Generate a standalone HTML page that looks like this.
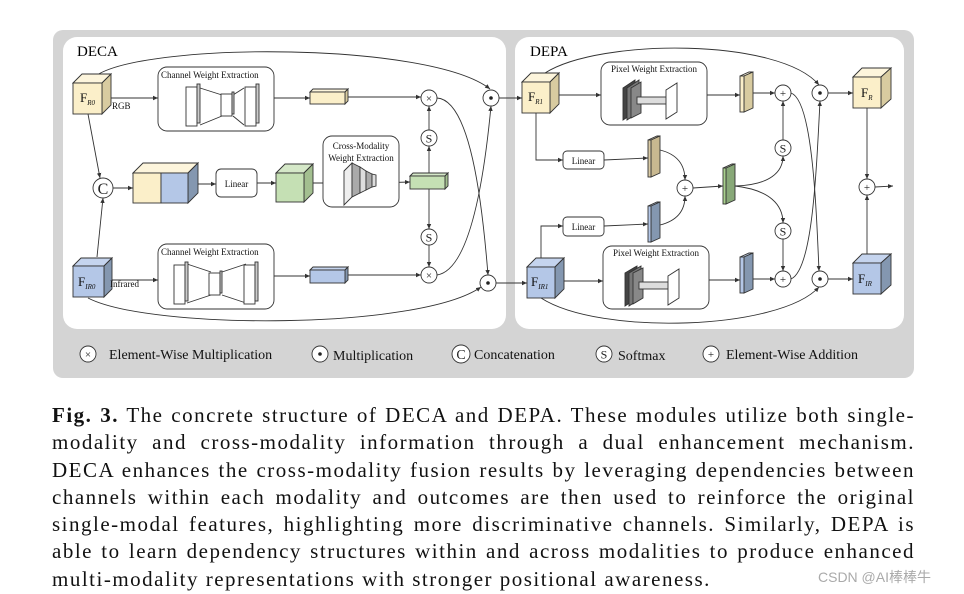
<!DOCTYPE html>
<html><head><meta charset="utf-8"><style>
body{margin:0;background:#fff;width:964px;height:594px;overflow:hidden;position:relative;font-family:"Liberation Serif",serif}
svg{position:absolute;left:0;top:0}
.cap{position:absolute;left:52px;width:863px;font-size:21px;letter-spacing:1.5px;line-height:27.3px;top:402px;color:#111}
.cap div{text-align:justify;text-align-last:justify;white-space:nowrap}
.cap div.last{text-align-last:left}
.wm{position:absolute;left:818px;top:567px;font-family:"Liberation Sans","Noto Sans CJK SC",sans-serif;font-size:14px;color:#aaa}
</style></head><body>
<svg width="964" height="594" viewBox="0 0 964 594" font-family="Liberation Serif, serif">
<defs><marker id="a" markerWidth="6" markerHeight="6" refX="5" refY="3" orient="auto" markerUnits="userSpaceOnUse"><path d="M0,0.8 L5,3 L0,5.2z" fill="#333"/></marker></defs>
<rect x="53" y="30" width="861" height="348" rx="10" fill="#d4d4d4"/>
<rect x="63" y="37" width="443" height="292" rx="14" fill="#fff"/>
<rect x="515" y="37" width="389" height="292" rx="14" fill="#fff"/>
<text x="77" y="56" font-size="15">DECA</text>
<text x="530" y="56" font-size="15">DEPA</text>
<g fill="none" stroke="#333" stroke-width="0.9" marker-end="url(#a)">
<path d="M97,75 C150,42 430,42 490,89"/>
<path d="M103,98 L158,98"/><path d="M274,98 L310,98"/><path d="M348,97 L421,97"/>
<path d="M437,98 C470,100 482,200 488,275"/>
<path d="M437,275 C470,270 484,180 491,106"/>
<path d="M88,298 C150,330 420,330 481,287"/>
<path d="M88,114 L100,178"/><path d="M97,257 L103,198"/>
<path d="M113,188 L133,188"/><path d="M198,184 L216,184"/><path d="M257,183 L276,183"/><path d="M313,183 L345,183"/><path d="M375,183 L410,182"/>
<path d="M429,173 L429,146"/><path d="M429,130 L429,106"/>
<path d="M429,189 L429,229"/><path d="M429,245 L429,267"/>
<path d="M103,280 L158,280"/><path d="M274,276 L310,276"/><path d="M348,275 L421,275"/>
<path d="M499,98 L522,98"/><path d="M496,283 L527,283"/>
<path d="M545,73 C600,38 780,38 819,85"/>
<path d="M550,95 L601,95"/><path d="M707,95 L740,95"/><path d="M753,93 L775,93"/>
<path d="M791,93 C812,100 816,200 819,271"/>
<path d="M791,279 C812,270 816,180 820,101"/>
<path d="M828,93 L853,93"/><path d="M867,108 L867,179"/><path d="M867,254 L867,195"/><path d="M875,187 L893,186"/>
<path d="M536,113 L536,160 L563,160"/><path d="M604,160 L648,158"/>
<path d="M660,150 C680,155 685,168 685,180"/><path d="M660,225 C680,220 685,208 685,196"/>
<path d="M693,188 L723,186"/>
<path d="M735,186 C770,185 783,172 783,156"/><path d="M735,186 C770,190 783,205 783,223"/>
<path d="M783,140 L783,101"/><path d="M783,239 L783,271"/>
<path d="M541,258 L541,226 L563,226"/><path d="M604,226 L648,224"/>
<path d="M555,281 L603,281"/><path d="M709,280 L740,280"/><path d="M753,279 L775,279"/>
<path d="M541,298 C600,336 780,330 819,287"/>
<path d="M828,279 L853,279"/>
</g>
<g stroke="#333" stroke-width="0.9">
<polygon points="73,83 82,74 111,74 102,83" fill="#fdf5dc"/><polygon points="102,83 111,74 111,105 102,114" fill="#d8cba0"/><rect x="73" y="83" width="29" height="31" fill="#fbefc9"/>
<polygon points="73,266 81,258 112,258 104,266" fill="#c5d4ee"/><polygon points="104,266 112,258 112,289 104,297" fill="#8497b0"/><rect x="73" y="266" width="31" height="31" fill="#b4c7e7"/>
<polygon points="133,173 143,163 198,163 188,173" fill="#fdf5dc"/><polygon points="188,173 198,163 198,193 188,203" fill="#8497b0"/><rect x="133" y="173" width="28" height="30" fill="#fbefc9"/><rect x="161" y="173" width="27" height="30" fill="#b4c7e7"/>
<polygon points="276,173 285,164 313,164 304,173" fill="#d5e8c8"/><polygon points="304,173 313,164 313,193 304,202" fill="#a3bf90"/><rect x="276" y="173" width="28" height="29" fill="#c5e0b4"/>
<polygon points="522,82 531,73 559,73 550,82" fill="#fdf5dc"/><polygon points="550,82 559,73 559,104 550,113" fill="#d8cba0"/><rect x="522" y="82" width="28" height="31" fill="#fbefc9"/>
<polygon points="527,267 536,258 564,258 555,267" fill="#c5d4ee"/><polygon points="555,267 564,258 564,289 555,298" fill="#8497b0"/><rect x="527" y="267" width="28" height="31" fill="#b4c7e7"/>
<polygon points="853,77 862,68 891,68 881,77" fill="#fdf5dc"/><polygon points="881,77 891,68 891,99 881,108" fill="#d8cba0"/><rect x="853" y="77" width="28" height="31" fill="#fbefc9"/>
<polygon points="853,263 862,254 891,254 881,263" fill="#c5d4ee"/><polygon points="881,263 891,254 891,285 881,294" fill="#8497b0"/><rect x="853" y="263" width="28" height="31" fill="#b4c7e7"/>
<polygon points="310,92 313,89 348,89 345,92" fill="#fdf5dc"/><polygon points="345,92 348,89 348,101 345,104" fill="#d8cba0"/><rect x="310" y="92" width="35" height="12" fill="#fbefc9"/>
<polygon points="310,270 313,267 348,267 345,270" fill="#c5d4ee"/><polygon points="345,270 348,267 348,280 345,283" fill="#8497b0"/><rect x="310" y="270" width="35" height="13" fill="#b4c7e7"/>
<polygon points="410,176 413,173 448,173 445,176" fill="#d5e8c8"/><polygon points="445,176 448,173 448,186 445,189" fill="#a3bf90"/><rect x="410" y="176" width="35" height="13" fill="#c5e0b4"/>
<polygon points="740,76 749,72 753,72 744,76" fill="#fdf5dc"/><polygon points="744,76 753,72 753,108 744,112" fill="#d8cba0"/><rect x="740" y="76" width="4" height="36" fill="#fbefc9"/>
<polygon points="648,140 657,136 660,136 651,140" fill="#e8dcc0"/><polygon points="651,140 660,136 660,173 651,177" fill="#c8b890"/><rect x="648" y="140" width="3" height="37" fill="#d9caa5"/>
<polygon points="648,206 657,202 660,202 651,206" fill="#c5d4ee"/><polygon points="651,206 660,202 660,238 651,242" fill="#8497b0"/><rect x="648" y="206" width="3" height="36" fill="#b4c7e7"/>
<polygon points="723,168 732,164 735,164 726,168" fill="#d5e8c8"/><polygon points="726,168 735,164 735,200 726,204" fill="#88a878"/><rect x="723" y="168" width="3" height="36" fill="#a9d08e"/>
<polygon points="740,257 749,253 753,253 744,257" fill="#c5d4ee"/><polygon points="744,257 753,253 753,289 744,293" fill="#8497b0"/><rect x="740" y="257" width="4" height="36" fill="#b4c7e7"/>
<rect x="158" y="67" width="116" height="64" rx="9" fill="#fff"/>
<rect x="158" y="244" width="116" height="65" rx="9" fill="#fff"/>
<rect x="323" y="136" width="76" height="71" rx="9" fill="#fff"/>
<rect x="216" y="169" width="41" height="28" rx="5" fill="#fff"/>
<rect x="601" y="62" width="106" height="63" rx="9" fill="#fff"/>
<rect x="603" y="246" width="106" height="63" rx="9" fill="#fff"/>
<rect x="563" y="151" width="41" height="18" rx="4" fill="#fff"/>
<rect x="563" y="217" width="41" height="19" rx="4" fill="#fff"/>
</g>
<g stroke="#333" stroke-width="0.9" fill="#fff">
<path d="M200,88 L222,95 M200,125 L222,116 M233,95 L244,88 M233,116 L244,125" fill="none"/>
<rect x="186" y="87" width="11" height="39"/><rect x="197" y="84" width="3" height="39" fill="#ccc"/>
<rect x="221" y="94" width="11" height="22"/><rect x="232" y="92" width="2" height="22" fill="#ccc"/>
<rect x="245" y="87" width="11" height="39"/><rect x="256" y="84" width="3" height="39" fill="#ccc"/>
<path d="M187,264 L211,272 M187,303 L211,295 M222,272 L246,264 M222,295 L246,303" fill="none"/>
<rect x="174" y="265" width="11" height="39"/><rect x="185" y="262" width="3" height="39" fill="#ccc"/>
<rect x="209" y="273" width="11" height="22"/><rect x="220" y="271" width="2" height="22" fill="#ccc"/>
<rect x="244" y="265" width="11" height="39"/><rect x="255" y="262" width="3" height="39" fill="#ccc"/>
<polygon points="344,171 352,163 352,197 344,205" fill="#eee"/><polygon points="352,163 360,167 360,193 352,197" fill="#aaa"/>
<polygon points="360,167 366,171 366,190 360,193" fill="#ddd"/><polygon points="366,171 372,174 372,187 366,190" fill="#aaa"/><polygon points="372,174 376,175 376,186 372,187" fill="#ddd"/>
<polygon points="623,88 635,80 635,112 623,120" fill="#444"/><polygon points="627,88 639,80 639,112 627,120" fill="#777"/><polygon points="631,88 641,82 641,113 631,118" fill="#888"/>
<rect x="637" y="97" width="35" height="7" fill="#ddd"/>
<polygon points="666,90 677,83 677,112 666,119" fill="#fff"/>
<polygon points="625,273 637,266 637,298 625,306" fill="#444"/><polygon points="629,273 641,266 641,298 629,306" fill="#777"/><polygon points="633,273 643,268 643,298 633,304" fill="#888"/>
<rect x="639" y="282" width="36" height="7" fill="#ddd"/>
<polygon points="668,276 679,269 679,298 668,305" fill="#fff"/>
</g>
<g stroke="#333" stroke-width="0.9" fill="#fff">
<circle cx="429" cy="98" r="8"/><circle cx="429" cy="138" r="8"/><circle cx="429" cy="237" r="8"/><circle cx="429" cy="275" r="8"/>
<circle cx="491" cy="98" r="8"/><circle cx="488" cy="283" r="8"/><circle cx="103" cy="188" r="10"/>
<circle cx="783" cy="93" r="8"/><circle cx="783" cy="148" r="8"/><circle cx="783" cy="231" r="8"/><circle cx="783" cy="279" r="8"/>
<circle cx="820" cy="93" r="8"/><circle cx="820" cy="279" r="8"/><circle cx="867" cy="187" r="8"/><circle cx="685" cy="188" r="8"/>
<circle cx="88" cy="354" r="8"/><circle cx="320" cy="354" r="8"/><circle cx="461" cy="354" r="9"/><circle cx="604" cy="354" r="8"/><circle cx="711" cy="354" r="8"/>
</g>
<g fill="#222" text-anchor="middle" font-size="11">
<text x="429" y="102">×</text><text x="429" y="142.5" font-size="12">S</text><text x="429" y="241.5" font-size="12">S</text><text x="429" y="279">×</text>
<circle cx="491" cy="98" r="1.8"/><circle cx="488" cy="283" r="1.8"/><text x="103" y="194" font-size="16">C</text>
<text x="783" y="97">+</text><text x="783" y="152.5" font-size="12">S</text><text x="783" y="235.5" font-size="12">S</text><text x="783" y="283">+</text>
<circle cx="820" cy="93" r="1.8"/><circle cx="820" cy="279" r="1.8"/><text x="867" y="191">+</text><text x="685" y="192">+</text>
<text x="88" y="358">×</text><circle cx="320" cy="354" r="1.8"/><text x="461" y="359" font-size="14">C</text><text x="604" y="358.5" font-size="12">S</text><text x="711" y="358">+</text>
</g>
<g fill="#111" font-size="9">
<text x="80" y="102" font-size="13">F<tspan font-size="7" font-style="italic" dy="3">R0</tspan></text>
<text x="78" y="286" font-size="13">F<tspan font-size="7" font-style="italic" dy="3">IR0</tspan></text>
<text x="528" y="101" font-size="13">F<tspan font-size="7" font-style="italic" dy="3">R1</tspan></text>
<text x="531" y="286" font-size="13">F<tspan font-size="7" font-style="italic" dy="3">IR1</tspan></text>
<text x="861" y="97" font-size="13">F<tspan font-size="7" font-style="italic" dy="3">R</tspan></text>
<text x="858" y="283" font-size="13">F<tspan font-size="7" font-style="italic" dy="3">IR</tspan></text>
<text x="112" y="109">RGB</text><text x="110" y="287">Infrared</text>
<text x="161" y="78">Channel Weight Extraction</text><text x="161" y="255">Channel Weight Extraction</text>
<text x="361" y="149" text-anchor="middle">Cross-Modality</text><text x="361" y="161" text-anchor="middle">Weight Extraction</text>
<text x="236.5" y="187" text-anchor="middle">Linear</text>
<text x="654" y="72" text-anchor="middle">Pixel Weight Extraction</text><text x="656" y="256" text-anchor="middle">Pixel Weight Extraction</text>
<text x="583.5" y="164" text-anchor="middle">Linear</text><text x="583.5" y="230" text-anchor="middle">Linear</text>
</g>
<g fill="#111" font-size="14">
<text x="109" y="359">Element-Wise Multiplication</text><text x="333" y="360">Multiplication</text><text x="474" y="359">Concatenation</text><text x="618" y="360">Softmax</text><text x="726" y="359">Element-Wise Addition</text>
</g>
</svg>
<div class="cap">
<div><b>Fig. 3.</b> The concrete structure of DECA and DEPA. These modules utilize both single-</div>
<div>modality and cross-modality information through a dual enhancement mechanism.</div>
<div>DECA enhances the cross-modality fusion results by leveraging dependencies between</div>
<div>channels within each modality and outcomes are then used to reinforce the original</div>
<div>single-modal features, highlighting more discriminative channels. Similarly, DEPA is</div>
<div>able to learn dependency structures within and across modalities to produce enhanced</div>
<div class="last">multi-modality representations with stronger positional awareness.</div>
</div>
<div class="wm">CSDN @AI棒棒牛</div>
</body></html>
